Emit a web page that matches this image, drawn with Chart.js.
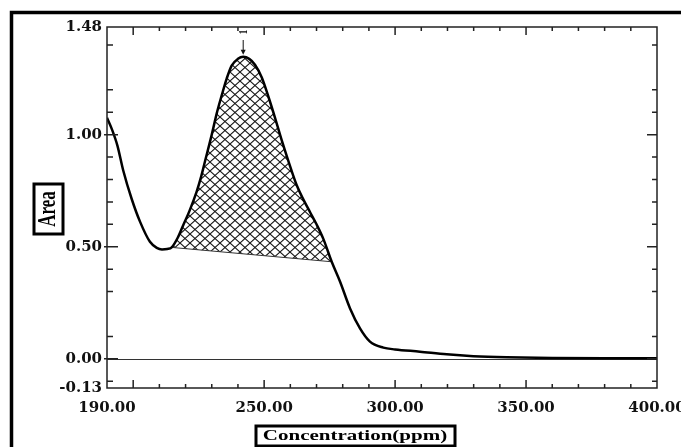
<!DOCTYPE html>
<html>
<head>
<meta charset="utf-8">
<script src="https://cdn.jsdelivr.net/npm/chart.js@4"></script>
<style>
  html, body { margin: 0; padding: 0; background: #fff; }
</style>
</head>
<body>
<canvas id="specChart" width="681" height="447"></canvas>
<script>
// data
const concX = [190.0, 192.0, 194.0, 196.2, 199.4, 202.6, 206.4, 209.0, 211.0, 213.0,
  214.7, 217.0, 219.1, 221.5, 224.2, 226.0, 227.4, 230.0, 231.9, 233.8,
  235.7, 237.6, 240.0, 242.0, 244.3, 246.5, 249.1, 251.6, 254.1, 256.7,
  259.2, 262.4, 265.0, 267.5, 270.0, 272.6, 275.8, 279.0, 282.8, 286.6,
  290.4, 295.5, 300.0, 309.5, 319.7, 329.9, 342.6, 360.0, 380.0, 400.0];
const areaY = [1.075, 1.02, 0.95, 0.84, 0.714, 0.612, 0.522, 0.495, 0.488, 0.490,
  0.497, 0.54, 0.596, 0.66, 0.745, 0.815, 0.88, 1.0, 1.095, 1.175,
  1.25, 1.308, 1.338, 1.347, 1.338, 1.312, 1.255, 1.17, 1.077, 0.975,
  0.884, 0.775, 0.71, 0.655, 0.60, 0.535, 0.433, 0.344, 0.225, 0.136,
  0.077, 0.050, 0.042, 0.032, 0.020, 0.012, 0.007, 0.004, 0.003, 0.003];

// integrated peak: from / to (on the trace) and apex
const hatchFrom = 214.7;
const hatchTo = 275.8;
const peakX = 242.0;
const peakLabel = '1';

const xTickLabels = [190, 250, 300, 350, 400];
const yTickLabels = [-0.13, 0.0, 0.5, 1.0, 1.48];
const xMajorTicks = [200, 250, 300, 350];
const xMinorTicks = [210, 220, 230, 240, 260, 270, 280, 290, 310, 320, 330, 340, 360, 370, 380, 390];
const yMajorTicks = [0.0, 0.5, 1.0];
const yMinorTicks = [-0.1, 0.1, 0.3, 0.4, 0.6, 0.7, 0.8, 0.9, 1.1, 1.2, 1.4];

const curvePts = concX.map((x, i) => ({ x: x, y: areaY[i] }));
const hatchPts = curvePts.filter(p => p.x >= hatchFrom && p.x <= hatchTo);
const basePts = [hatchPts[0], hatchPts[hatchPts.length - 1]];

function makeHatch(ctx) {
  const c = document.createElement('canvas');
  c.width = 10; c.height = 9;
  const g = c.getContext('2d');
  g.strokeStyle = '#1a1a1a';
  g.lineWidth = 1.1;
  g.beginPath();
  g.moveTo(0, 0); g.lineTo(10, 9);
  g.moveTo(10, 0); g.lineTo(0, 9);
  g.stroke();
  return ctx.createPattern(c, 'repeat');
}

// text is stretched wide in the original figure
function wideText(ctx, txt, cx, cy, font, rot) {
  ctx.save();
  ctx.translate(cx, cy);
  ctx.scale(1.5, 1);
  if (rot) ctx.rotate(rot);
  ctx.font = font;
  ctx.fillStyle = '#000';
  ctx.textAlign = 'center';
  ctx.textBaseline = 'middle';
  ctx.fillText(txt, 0, 0);
  ctx.restore();
}

const decor = {
  id: 'decor',
  beforeDatasetsDraw(chart) {
    const { ctx, chartArea: a, scales: { y } } = chart;
    const y0 = Math.round(y.getPixelForValue(0)) + 0.5;
    ctx.save();
    ctx.strokeStyle = '#333';
    ctx.lineWidth = 1;
    ctx.beginPath();
    ctx.moveTo(a.left, y0); ctx.lineTo(a.right, y0);
    ctx.stroke();
    ctx.restore();
  },
  afterDraw(chart) {
    const { ctx, chartArea: a, scales: { x, y } } = chart;
    ctx.save();
    ctx.strokeStyle = '#222';
    ctx.lineWidth = 1.5;
    ctx.strokeRect(a.left, a.top, a.right - a.left, a.bottom - a.top);

    ctx.beginPath();
    const xt = (v, len) => {
      const px = x.getPixelForValue(v);
      ctx.moveTo(px, a.bottom); ctx.lineTo(px, a.bottom - len);
      ctx.moveTo(px, a.top); ctx.lineTo(px, a.top + len);
    };
    const yt = (v, lenIn, lenOut) => {
      const py = y.getPixelForValue(v);
      ctx.moveTo(a.left - lenOut, py); ctx.lineTo(a.left + lenIn, py);
      ctx.moveTo(a.right, py); ctx.lineTo(a.right - lenIn + 1, py);
    };
    xMajorTicks.forEach(v => xt(v, 8));
    xMinorTicks.forEach(v => xt(v, 4));
    yMajorTicks.forEach(v => yt(v, 11, 3));
    yMinorTicks.forEach(v => yt(v, 6, 0));
    ctx.stroke();

    // peak marker
    const px = x.getPixelForValue(peakX);
    const tipY = y.getPixelForValue(areaY[concX.indexOf(peakX)]) - 2;
    ctx.strokeStyle = '#111';
    ctx.lineWidth = 1;
    ctx.beginPath();
    ctx.moveTo(px, a.top + 13); ctx.lineTo(px, tipY - 4);
    ctx.stroke();
    ctx.fillStyle = '#111';
    ctx.beginPath();
    ctx.moveTo(px - 2.5, tipY - 5); ctx.lineTo(px + 2.5, tipY - 5); ctx.lineTo(px, tipY);
    ctx.closePath();
    ctx.fill();
    wideText(ctx, peakLabel, px, a.top + 5, 'bold 9px "Liberation Serif"', -Math.PI / 2);

    // axis titles in boxes
    ctx.strokeStyle = '#000';
    ctx.lineWidth = 3;
    ctx.strokeRect(256, 426, 199, 20);
    wideText(ctx, 'Concentration(ppm)', 355, 436, 'bold 14px "Liberation Serif"');
    ctx.strokeRect(34, 184, 29, 50);
    wideText(ctx, 'Area', 48, 209, 'bold 17px "Liberation Serif"', -Math.PI / 2);

    // outer frame (runs off the picture)
    ctx.lineWidth = 3.5;
    ctx.beginPath();
    ctx.moveTo(11.5, 460); ctx.lineTo(11.5, 12.5); ctx.lineTo(700, 12.5);
    ctx.stroke();
    ctx.restore();
  }
};

const tickFont = { family: 'DejaVu Serif', size: 15, weight: 'bold' };

const cv = document.getElementById('specChart');
const chart = new Chart(cv, {
  type: 'scatter',
  data: {
    datasets: [{
      label: 'trace',
      data: curvePts,
      showLine: true,
      borderColor: '#000',
      borderWidth: 2.5,
      pointRadius: 0,
      cubicInterpolationMode: 'monotone',
      fill: false,
      order: 0
    }, {
      label: 'peak area',
      data: hatchPts,
      showLine: true,
      borderWidth: 0,
      borderColor: 'rgba(0,0,0,0)',
      pointRadius: 0,
      cubicInterpolationMode: 'monotone',
      backgroundColor: makeHatch(cv.getContext('2d')),
      fill: 2,
      order: 2
    }, {
      label: 'baseline',
      data: basePts,
      showLine: true,
      borderColor: '#333',
      borderWidth: 1,
      pointRadius: 0,
      fill: false,
      order: 1
    }]
  },
  options: {
    responsive: false,
    animation: false,
    devicePixelRatio: 1,
    layout: { padding: { top: 27, right: 24, left: 0, bottom: 0 }, autoPadding: false },
    plugins: { legend: { display: false }, tooltip: { enabled: false } },
    scales: {
      x: {
        type: 'linear',
        min: 190,
        max: 400,
        grid: { display: false, drawTicks: false },
        border: { display: false },
        afterBuildTicks: s => { s.ticks = xTickLabels.map(v => ({ value: v })); },
        afterFit: s => { s.height = 59; s.paddingLeft = 0; s.paddingRight = 0; },
        ticks: {
          color: '#111', font: tickFont, padding: 11,
          autoSkip: false, maxRotation: 0,
          callback: v => Number(v).toFixed(2)
        }
      },
      y: {
        type: 'linear',
        min: -0.13,
        max: 1.48,
        grid: { display: false, drawTicks: false },
        border: { display: false },
        afterBuildTicks: s => { s.ticks = yTickLabels.map(v => ({ value: v })); },
        afterFit: s => { s.width = 107; s.paddingTop = 0; s.paddingBottom = 0; },
        ticks: {
          color: '#111', font: tickFont, padding: 5,
          autoSkip: false,
          callback: v => Number(v).toFixed(2)
        }
      }
    }
  },
  plugins: [decor]
});
</script>
</body>
</html>
